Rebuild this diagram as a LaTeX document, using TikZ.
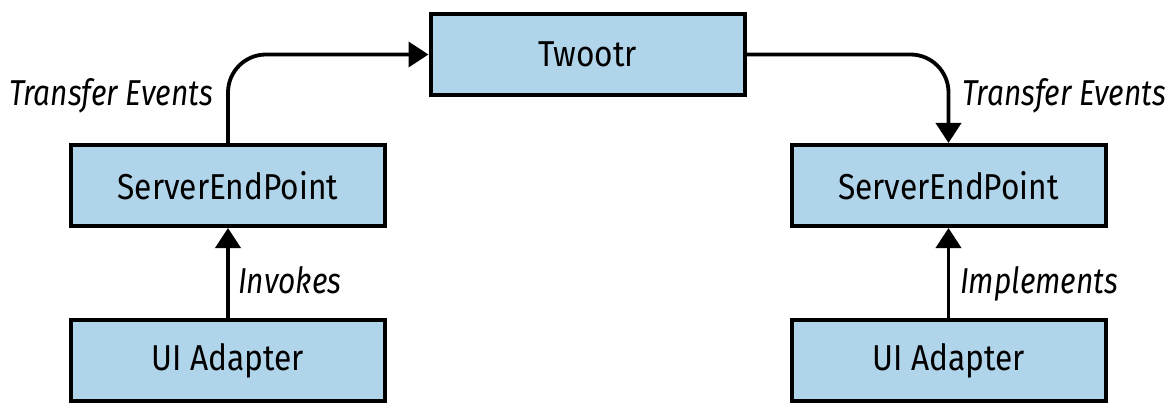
\documentclass[tikz,border=0pt]{standalone}
\usepackage{fontspec}
\setmainfont{Fira Sans}[FakeStretch=0.88]
\newfontfamily\lblfont{Fira Sans}[FakeStretch=0.83]
\usetikzlibrary{arrows.meta}
\definecolor{boxblue}{RGB}{176,212,234}
\begin{document}
\begin{tikzpicture}[x=1pt,y=-1pt,
  box/.style={draw=black, fill=boxblue, line width=4pt, minimum width=314pt, minimum height=81pt, inner sep=0pt, font=\fontsize{36}{40}\selectfont},
  lbl/.style={font=\fontsize{36}{40}\lblfont\itshape, inner sep=0pt},
  arr/.style={line width=3.8pt, -{Triangle[length=20pt,width=25pt]}}]
\useasboundingbox[fill=white] (0,0) rectangle (1174,406);
\node[box] (tw)   at (587.5,54.5) {Twootr};
\node[box] (sepL) at (228,185.5) {ServerEndPoint};
\node[box] (uiL)  at (228,360.5) {UI Adapter};
\node[box] (sepR) at (948.5,185.5) {ServerEndPoint};
\node[box] (uiR)  at (948.5,360.5) {UI Adapter};
\draw[arr, rounded corners=38pt] (sepL.north) |- (tw.west);
\draw[arr, rounded corners=38pt] (tw.east) -| (sepR.north);
\draw[arr] (uiL.north) -- (sepL.south);
\draw[arr] (uiR.north) -- (sepR.south);
\node[lbl, anchor=base east] (l1) at (213,106) {Transfer Events};
\node[lbl, anchor=base west] (l2) at (962,106) {Transfer Events};
\node[lbl, anchor=base west] (l3) at (238,293) {Invokes};
\node[lbl, anchor=base west] (l4) at (960,293) {Implements};
\end{tikzpicture}
\end{document}
